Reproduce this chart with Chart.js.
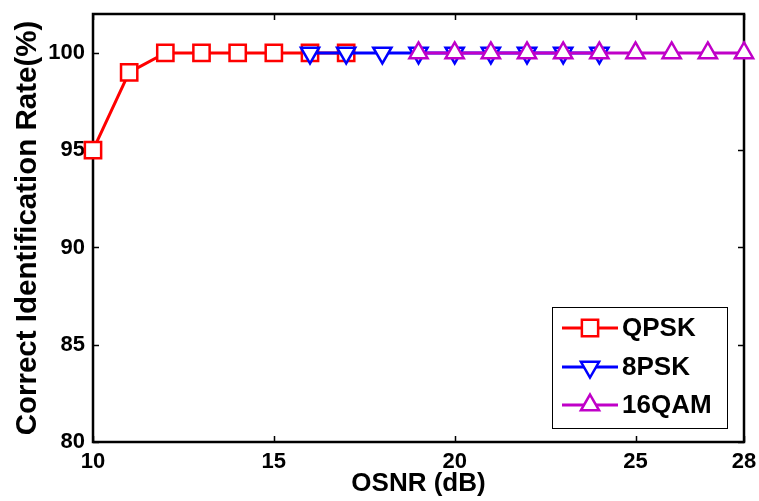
<!DOCTYPE html>
<html>
<head>
<meta charset="utf-8">
<script src="https://cdn.jsdelivr.net/npm/chart.js@4.4.1/dist/chart.umd.min.js"></script>
<style>
  html, body { margin: 0; padding: 0; background: #fff; }
  #wrap { width: 759px; height: 501px; }
</style>
</head>
<body>
<div id="wrap"><canvas id="chart" width="759" height="501"></canvas></div>
<script>
const seriesNames = ['QPSK', '8PSK', '16QAM'];
const qpskX = [10, 11, 12, 13, 14, 15, 16, 17];
const qpskY = [95, 99, 100, 100, 100, 100, 100, 100];
const psk8X = [16, 17, 18, 19, 20, 21, 22, 23, 24];
const psk8Y = [100, 100, 100, 100, 100, 100, 100, 100, 100];
const qam16X = [19, 20, 21, 22, 23, 24, 25, 26, 27, 28];
const qam16Y = [100, 100, 100, 100, 100, 100, 100, 100, 100, 100];
const xTicks = [10, 15, 20, 25, 28];
const yTicks = [80, 85, 90, 95, 100];

const FONT = "'Liberation Sans', Arial, sans-serif";

const toPoints = (xs, ys) => xs.map((x, i) => ({ x: x, y: ys[i] }));

const makeSet = (label, pts, color, style, rot, radius, order) => ({
    label: label,
    data: pts,
    borderColor: color,
    backgroundColor: '#fff',
    borderWidth: 3,
    pointStyle: style,
    pointRotation: rot,
    pointRadius: radius,
    pointHoverRadius: radius,
    pointBorderColor: color,
    pointBackgroundColor: '#fff',
    pointBorderWidth: 2.5,
    tension: 0,
    clip: false,
    order: order
});

// frame box with inward ticks, like the original plot
const framePlugin = {
    id: 'frame',
    beforeDatasetsDraw(chart) {
        const { ctx, chartArea: a, scales } = chart;
        ctx.save();
        ctx.strokeStyle = '#000';
        ctx.lineWidth = 1.5;
        const len = 6;
        ctx.beginPath();
        for (const v of xTicks) {
            const px = Math.round(scales.x.getPixelForValue(v)) + 0.5;
            ctx.moveTo(px, a.bottom); ctx.lineTo(px, a.bottom - len);
            ctx.moveTo(px, a.top); ctx.lineTo(px, a.top + len);
        }
        for (const v of yTicks) {
            const py = Math.round(scales.y.getPixelForValue(v)) + 0.5;
            ctx.moveTo(a.left, py); ctx.lineTo(a.left + len, py);
            ctx.moveTo(a.right, py); ctx.lineTo(a.right - len, py);
        }
        ctx.stroke();
        ctx.lineWidth = 2.5;
        ctx.strokeRect(a.left, a.top, a.right - a.left, a.bottom - a.top);
        ctx.restore();
    }
};

// legend box drawn inside the plot, lower right
const legendPlugin = {
    id: 'boxLegend',
    afterDraw(chart) {
        const { ctx } = chart;
        const bx = 552, by = 307, bw = 175, bh = 121;
        ctx.save();
        ctx.fillStyle = '#fff';
        ctx.fillRect(bx, by, bw, bh);
        ctx.strokeStyle = '#000';
        ctx.lineWidth = 1;
        ctx.strokeRect(bx + 0.5, by + 0.5, bw, bh);
        const rows = [328, 367, 405];
        chart.data.datasets.forEach((ds, i) => {
            const y = rows[i];
            ctx.strokeStyle = ds.borderColor;
            ctx.lineWidth = 3;
            ctx.beginPath();
            ctx.moveTo(562, y);
            ctx.lineTo(618, y);
            ctx.stroke();
            ctx.fillStyle = '#fff';
            ctx.lineWidth = 2.5;
            Chart.helpers.drawPoint(ctx, {
                pointStyle: ds.pointStyle,
                rotation: ds.pointRotation,
                radius: ds.pointRadius,
                borderWidth: 2.5
            }, 590, y);
            ctx.fillStyle = '#000';
            ctx.font = 'bold 26px ' + FONT;
            ctx.textBaseline = 'middle';
            ctx.textAlign = 'left';
            ctx.fillText(ds.label, 622, y + 1);
        });
        ctx.restore();
    }
};

new Chart(document.getElementById('chart'), {
    type: 'line',
    data: {
        datasets: [
            makeSet(seriesNames[0], toPoints(qpskX, qpskY), '#ff0000', 'rect', 0, 11.5, 3),
            makeSet(seriesNames[1], toPoints(psk8X, psk8Y), '#0000ff', 'triangle', 180, 10.5, 2),
            makeSet(seriesNames[2], toPoints(qam16X, qam16Y), '#c000c8', 'triangle', 0, 10.5, 1)
        ]
    },
    options: {
        responsive: false,
        animation: false,
        layout: { padding: { top: 12, right: 15, left: 0, bottom: 0 } },
        plugins: {
            legend: { display: false },
            tooltip: { enabled: false }
        },
        scales: {
            x: {
                type: 'linear',
                min: 10,
                max: 28,
                afterBuildTicks: (scale) => { scale.ticks = xTicks.map(v => ({ value: v })); },
                afterFit: (scale) => {
                    scale.height = 59;
                    scale.paddingLeft = 0;
                    scale.paddingRight = 0;
                },
                grid: { display: false, drawTicks: false },
                border: { display: false },
                ticks: {
                    color: '#000',
                    padding: 7,
                    maxRotation: 0,
                    font: { family: FONT, size: 22, weight: 'bold' }
                },
                title: {
                    display: true,
                    text: 'OSNR (dB)',
                    color: '#000',
                    padding: { top: 0, bottom: 2 },
                    font: { family: FONT, size: 26, weight: 'bold' }
                }
            },
            y: {
                min: 80,
                max: 102,
                afterBuildTicks: (scale) => { scale.ticks = yTicks.map(v => ({ value: v })); },
                afterFit: (scale) => {
                    scale.width = 93;
                    scale.paddingTop = 0;
                    scale.paddingBottom = 0;
                },
                grid: { display: false, drawTicks: false },
                border: { display: false },
                ticks: {
                    color: '#000',
                    padding: 8,
                    font: { family: FONT, size: 22, weight: 'bold' }
                },
                title: {
                    display: true,
                    text: 'Correct Identification Rate(%)',
                    color: '#000',
                    padding: { top: 10, bottom: 0 },
                    font: { family: FONT, size: 29.5, weight: 'bold' }
                }
            }
        }
    },
    plugins: [framePlugin, legendPlugin]
});
</script>
</body>
</html>
